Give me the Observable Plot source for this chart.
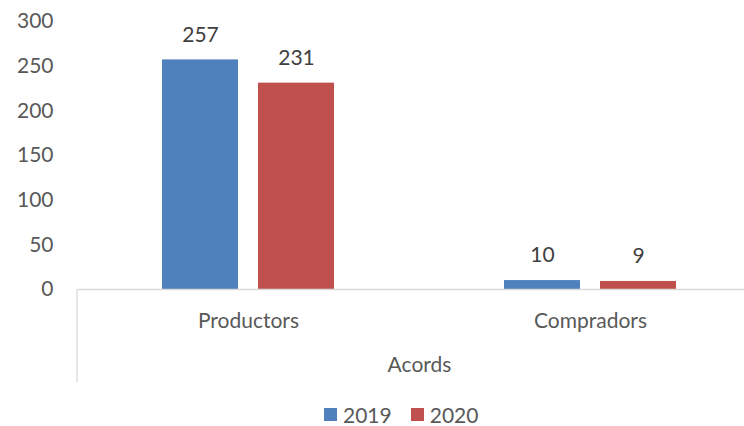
<!DOCTYPE html>
<html><head><meta charset="utf-8">
<script src="https://cdn.jsdelivr.net/npm/d3@7"></script>
<script src="https://cdn.jsdelivr.net/npm/@observablehq/plot@0.6"></script>
<style>
body{margin:0;background:#fff;font-family:Lato,sans-serif;}
#legend{display:flex;align-items:center;height:28px;margin-left:324px;font-size:21px;color:#595959;}
#legend span.sw{display:inline-block;width:13px;height:13px;margin-right:6px;}
#legend span.lb{margin-right:19px;}
</style></head>
<body><div id="chart"></div>
<div id="legend"></div>
<script>
const categories = ["Productors", "Compradors"];
const years = ["2019", "2020"];
const values2019 = [257, 10];
const values2020 = [231, 9];
const colors = ["#4F81BD", "#C0504D"];
const yTicks = [0, 50, 100, 150, 200, 250, 300];
const axisTitle = "Acords";

const data = [];
categories.forEach((c, i) => {
  data.push({cat: c, year: years[0], value: values2019[i]});
  data.push({cat: c, year: years[1], value: values2020[i]});
});

const plot = Plot.plot({
  width: 744,
  height: 400,
  marginLeft: 77,
  marginRight: -17,
  marginTop: 21,
  marginBottom: 111,
  style: {fontFamily: "Lato, sans-serif", fontSize: "21px", color: "#595959", background: "#fff"},
  fx: {domain: categories, padding: 0, axis: "bottom", tickSize: 0, tickPadding: 24, label: axisTitle, labelAnchor: "center", labelOffset: 82},
  x: {domain: years, axis: null, paddingInner: 0.206, paddingOuter: 0.866},
  y: {domain: [0, 300], ticks: yTicks, tickSize: 0, tickPadding: 24, label: null, line: false},
  color: {domain: years, range: colors},
  facet: {data, x: "cat"},
  marks: [
    Plot.barY(data, {x: "year", y: "value", fill: "year"}),
    Plot.ruleY([0], {stroke: "#d9d9d9", strokeWidth: 1.3}),
    Plot.text(data, {x: "year", y: "value", text: d => String(d.value), dy: -25, fill: "#404040", fontSize: 21})
  ]
});
document.getElementById("chart").appendChild(plot);

// left outer tick of category axis
const fxs = plot.scale("fx");
const ys = plot.scale("y");
const yPos = d3.scaleLinear().domain(ys.domain).range(ys.range);
d3.select(plot).append("line")
  .attr("x1", fxs.range[0]).attr("x2", fxs.range[0])
  .attr("y1", yPos(0)).attr("y2", yPos(-104))
  .attr("stroke", "#d9d9d9").attr("stroke-width", 1.3);

const lg = document.getElementById("legend");
years.forEach((y, i) => {
  const sw = document.createElement("span"); sw.className = "sw"; sw.style.background = colors[i];
  const lb = document.createElement("span"); lb.className = "lb"; lb.textContent = y;
  lg.appendChild(sw); lg.appendChild(lb);
});
</script></body></html>
